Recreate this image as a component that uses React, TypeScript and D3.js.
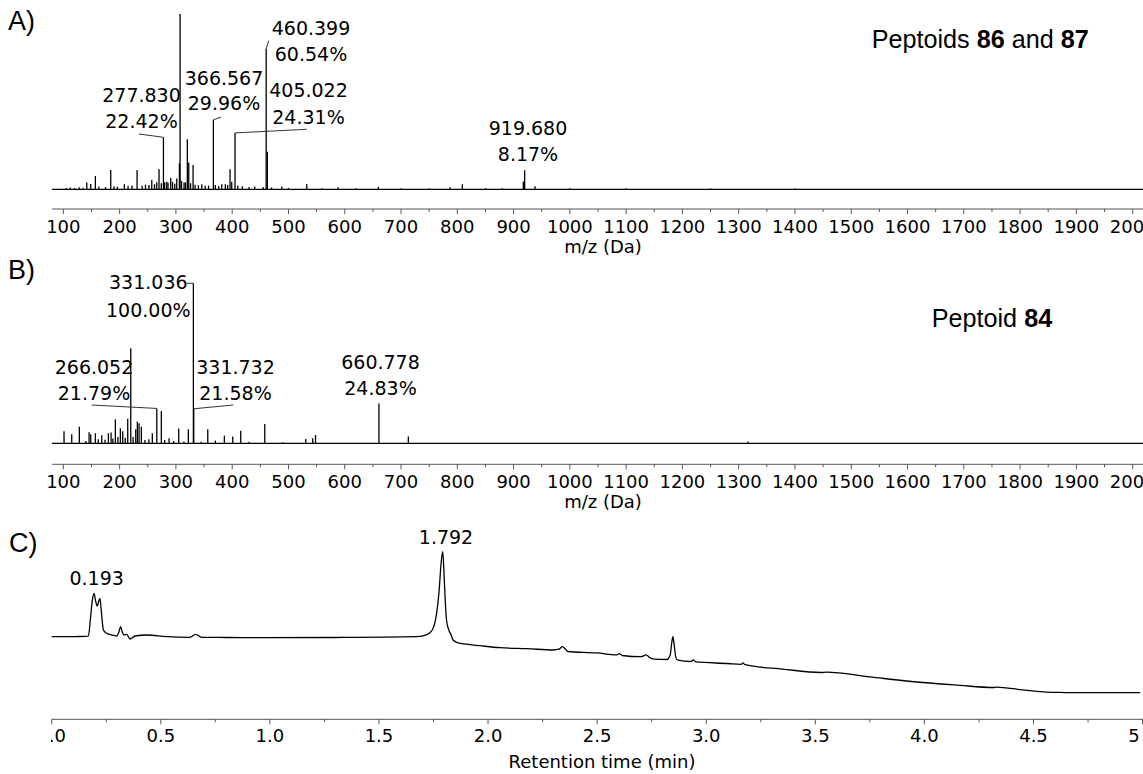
import React from 'react';
import * as d3 from 'd3';

// ---------------- DATA ----------------
const mzMajorTicks = [100, 200, 300, 400, 500, 600, 700, 800, 900, 1000, 1100, 1200, 1300, 1400, 1500, 1600, 1700, 1800, 1900, 2000];
const mzMinorTicks = [50, 150, 250, 350, 450, 550, 650, 750, 850, 950, 1050, 1150, 1250, 1350, 1450, 1550, 1650, 1750, 1850, 1950];
const timeMajorTicks = [0, 0.5, 1.0, 1.5, 2.0, 2.5, 3.0, 3.5, 4.0, 4.5, 5.0];
const timeMinorTicks = [0.25, 0.75, 1.25, 1.75, 2.25, 2.75, 3.25, 3.75, 4.25, 4.75];

// Spectrum A (Peptoids 86 and 87): m/z and relative intensity (%)
const specA_mz = [
  105, 112, 120, 128, 135, 141.6, 148.7, 156.9, 163, 175, 184.2, 190, 196, 208.4, 215, 222, 231.0, 240, 246, 252,
  257.1, 262, 266, 270.0, 274, 277.83, 280, 283.7, 286, 290.8, 294, 298, 301.5, 306.2, 307.4, 310, 314.5, 317,
  320.3, 322.8, 326, 330.5, 334, 340, 346, 352, 358, 366.567, 370, 376, 381.4, 387.8, 392, 396.2, 399.2, 405.022,
  410, 418, 430, 440, 455, 460.399, 462.5, 470, 488.1, 500, 532.5, 560, 588.1, 620, 659.7, 700, 750, 787.1, 809.0,
  850, 880, 917.3, 919.68, 938.1, 1000, 1100, 1250, 1400
];
const specA_int = [
  0.6, 0.8, 0.6, 0.9, 0.7, 2.9, 2.3, 5.7, 1.2, 1.0, 8.3, 1.3, 1.1, 2.2, 1.4, 1.6, 8.3, 1.5, 2.0, 1.8,
  4.0, 2.2, 3.0, 8.6, 2.6, 22.42, 3.0, 3.3, 2.8, 5.0, 3.2, 2.4, 4.7, 11.2, 100, 3.6, 2.9, 3.0,
  21.6, 11.6, 2.6, 10.5, 2.0, 1.8, 2.2, 1.5, 1.6, 29.96, 1.8, 1.4, 2.2, 2.2, 1.9, 8.6, 3.3, 24.31,
  1.6, 1.3, 1.0, 1.2, 1.0, 60.54, 16.2, 0.8, 1.2, 0.6, 2.3, 0.5, 0.9, 0.5, 1.1, 0.5, 0.5, 0.9, 2.2,
  0.5, 0.5, 3.4, 8.17, 1.3, 0.4, 0.4, 0.4, 0.4
];
const annotA_mz = [277.83, 366.567, 405.022, 460.399, 919.68];
const annotA_int = [22.42, 29.96, 24.31, 60.54, 8.17];
const annotA_text = [['277.830', '22.42%'], ['366.567', '29.96%'], ['405.022', '24.31%'], ['460.399', '60.54%'], ['919.680', '8.17%']];

// Spectrum B (Peptoid 84)
const specB_mz = [
  101.2, 114.9, 128.4, 140, 145.7, 148.7, 156.9, 162, 168.2, 174, 180.0, 184.8, 188, 192.4, 197, 201.3, 205.5, 210,
  214.4, 219.8, 224, 228.6, 231.5, 234.5, 238.6, 245, 252, 258.1, 266.052, 274.1, 280, 287.8, 296, 305.0, 314,
  322.1, 331.036, 331.732, 345, 356.6, 370.1, 386.1, 401.0, 415.2, 430, 457.9, 490, 530.7, 543.1, 548.1,
  660.778, 713.0, 1316.6
];
const specB_int = [
  7.5, 5.6, 10.4, 1.5, 6.9, 5.6, 6.3, 2.5, 5.0, 2.2, 6.3, 6.7, 3.0, 15.0, 4.0, 9.4, 7.5, 3.5,
  15.4, 59.4, 4.0, 8.8, 13.6, 12.5, 10.4, 2.0, 2.5, 6.3, 21.79, 20.2, 2.0, 3.1, 1.5, 9.2, 1.2,
  8.8, 100, 21.58, 1.0, 8.8, 1.7, 4.8, 4.2, 7.9, 1.0, 12.1, 0.6, 2.7, 3.1, 5.2,
  24.83, 4.2, 1.2
];
const annotB_mz = [331.036, 266.052, 331.732, 660.778];
const annotB_int = [100, 21.79, 21.58, 24.83];
const annotB_text = [['331.036', '100.00%'], ['266.052', '21.79%'], ['331.732', '21.58%'], ['660.778', '24.83%']];

// Chromatogram C: retention time (min) and detector signal (a.u.)
const chromT = [
  0, 0.1, 0.168, 0.178, 0.186, 0.194, 0.201, 0.209, 0.215, 0.221, 0.228, 0.237, 0.252, 0.28, 0.298, 0.308, 0.316,
  0.323, 0.331, 0.344, 0.359, 0.382, 0.435, 0.527, 0.634, 0.66, 0.687, 0.8, 0.985, 1.3, 1.673, 1.72, 1.745, 1.764,
  1.775, 1.785, 1.792, 1.797, 1.803, 1.81, 1.818, 1.83, 1.84, 1.86, 1.9, 1.963, 2.055, 2.18, 2.3, 2.325, 2.341,
  2.355, 2.366, 2.5, 2.59, 2.602, 2.615, 2.7, 2.725, 2.74, 2.762, 2.819, 2.835, 2.842, 2.847, 2.853, 2.86, 2.866,
  2.93, 2.941, 2.952, 3.1, 3.16, 3.168, 3.178, 3.35, 3.526, 3.55, 3.75, 3.941, 4.15, 4.318, 4.33, 4.45, 4.545,
  4.62, 4.696, 4.85, 4.989
];
const chromV = [
  56, 56, 56.5, 75, 92, 99.4, 92, 86.7, 91, 94.4, 80, 62.7, 59.4, 57.5, 56.7, 60.7, 66,
  61, 57.7, 58.4, 53.7, 56.7, 57.7, 56, 55.4, 58.4, 55.4, 55.2, 55, 55.2, 56, 58, 63, 79,
  100, 130, 141, 125, 95, 72, 64, 58, 52.7, 50, 48.5, 47, 45, 44, 42.7, 43.5, 46,
  43.5, 41.2, 39.8, 37.8, 39, 37.2, 36, 37.8, 35.2, 33.6, 33.2, 38, 50, 56, 48, 36, 32.9,
  31.2, 32.8, 30.8, 29.2, 28.4, 29.8, 28.0, 23.6, 20.2, 20.6, 15.8, 11.2, 7.6, 5.2, 5.6, 2.8, 0.9,
  0.3, 0, 0, 0
];
const chromLabelT = [0.193, 1.792];
const chromLabelText = ['0.193', '1.792'];

// ---------------- LAYOUT ----------------
const W = 1143, H = 774;
const FONT = '"DejaVu Sans", Verdana, sans-serif';
const SANS = '"Liberation Sans", Arial, sans-serif';
const ANN = 19;
const TICK = 18;

const xMz = d3.scaleLinear().domain([80, 2020]).range([52.1, 1143.9]);
const yA = d3.scaleLinear().domain([0, 100]).range([189.3, 189.3 - 232]);
const yB = d3.scaleLinear().domain([0, 100]).range([443.3, 283.3]);
const xT = d3.scaleLinear().domain([0, 5]).range([51.7, 1142.6]);
const yC = d3.scaleLinear().domain([0, 150]).range([692.7, 542.7]);

const axisA = 209;
const axisB = 464.3;
const axisC = 719.3;

// label layout (absolute pixel positions of label centres/baselines and leader ends)
const layoutA = [
  { cx: 141.5, b1: 102, b2: 128, lead: [139, 134] },
  { cx: 224, b1: 85, b2: 110, lead: [221, 117] },
  { cx: 308.5, b1: 97, b2: 124, lead: [306.7, 129.3] },
  { cx: 311, b1: 35, b2: 61, lead: [268.7, 40.7] },
  { cx: 528, b1: 135, b2: 161, lead: null },
];
const layoutB = [
  { cx: 148.3, b1: 289, b2: 316.7, lead: [186.7, 283.3] },
  { cx: 94, b1: 374, b2: 400, lead: [91.7, 405] },
  { cx: 235.5, b1: 374, b2: 400, lead: [233.3, 405] },
  { cx: 380.5, b1: 369, b2: 395, lead: null },
];
const layoutC = [
  { cx: 96.7, b: 585 },
  { cx: 446, b: 544 },
];

function MzAxis({ y }: { y: number }) {
  return (
    <g>
      <line x1={xMz.range()[0]} x2={W} y1={y} y2={y} stroke="#555" strokeWidth={1} />
      {mzMajorTicks.map((t) => (
        <line key={'M' + t} x1={xMz(t)} x2={xMz(t)} y1={y} y2={y + 5} stroke="#555" strokeWidth={1} />
      ))}
      {mzMinorTicks.filter((t) => xMz(t) > xMz.range()[0]).map((t) => (
        <line key={'m' + t} x1={xMz(t)} x2={xMz(t)} y1={y} y2={y + 3} stroke="#555" strokeWidth={1} />
      ))}
      {mzMajorTicks.map((t) => (
        <text key={'L' + t} x={xMz(t)} y={y + 24} textAnchor="middle" fontFamily={FONT} fontSize={TICK} fill="#000">
          {t}
        </text>
      ))}
      <text x={603} y={y + 44} textAnchor="middle" fontFamily={FONT} fontSize={TICK} fill="#000">
        m/z (Da)
      </text>
    </g>
  );
}

function Spectrum({ mz, inten, yS, clipId }: { mz: number[]; inten: number[]; yS: any; clipId?: string }) {
  const base = yS(0);
  return (
    <g clipPath={clipId ? `url(#${clipId})` : undefined}>
      <line x1={xMz.range()[0]} x2={W} y1={base} y2={base} stroke="#000" strokeWidth={1.2} />
      {mz.map((m, i) => (
        <line key={i} x1={xMz(m)} x2={xMz(m)} y1={base} y2={yS(inten[i])} stroke="#000" strokeWidth={1.3} />
      ))}
    </g>
  );
}

function Annotations({ mz, inten, texts, layout, yS }: any) {
  return (
    <g>
      {mz.map((m: number, i: number) => {
        const L = layout[i];
        const px = xMz(m);
        const py = yS(inten[i]);
        return (
          <g key={i}>
            {L.lead && (
              <line x1={L.lead[0]} y1={L.lead[1]} x2={px} y2={py} stroke="#333" strokeWidth={1} />
            )}
            <text x={L.cx} y={L.b1} textAnchor="middle" fontFamily={FONT} fontSize={ANN} fill="#000">
              {texts[i][0]}
            </text>
            <text x={L.cx} y={L.b2} textAnchor="middle" fontFamily={FONT} fontSize={ANN} fill="#000">
              {texts[i][1]}
            </text>
          </g>
        );
      })}
    </g>
  );
}

export default function App() {
  const chromLine = d3
    .line<number>()
    .x((_, i) => xT(chromT[i]))
    .y((v) => yC(v))
    .curve(d3.curveMonotoneX)(chromV) as string;

  return (
    <svg
      width={W}
      height={H}
      viewBox={`0 0 ${W} ${H}`}
      style={{ position: 'absolute', left: 0, top: 0, background: '#fff' }}
    >
      <defs>
        <clipPath id="clipA">
          <rect x={0} y={14} width={W} height={200} />
        </clipPath>
        <clipPath id="clipCAxis">
          <rect x={51} y={690} width={1090} height={84} />
        </clipPath>
      </defs>
      <rect x={0} y={0} width={W} height={H} fill="#fff" />

      {/* Panel A */}
      <text x={8} y={30} fontFamily={SANS} fontSize={27} fill="#000">A)</text>
      <text x={871.7} y={48.3} fontFamily={SANS} fontSize={25.2} fill="#000">
        Peptoids <tspan fontWeight="bold">86</tspan> and <tspan fontWeight="bold">87</tspan>
      </text>
      <Spectrum mz={specA_mz} inten={specA_int} yS={yA} clipId="clipA" />
      <Annotations mz={annotA_mz} inten={annotA_int} texts={annotA_text} layout={layoutA} yS={yA} />
      <MzAxis y={axisA} />

      {/* Panel B */}
      <text x={8} y={279} fontFamily={SANS} fontSize={27} fill="#000">B)</text>
      <text x={931.7} y={327} fontFamily={SANS} fontSize={25.2} fill="#000">
        Peptoid <tspan fontWeight="bold">84</tspan>
      </text>
      <Spectrum mz={specB_mz} inten={specB_int} yS={yB} />
      <Annotations mz={annotB_mz} inten={annotB_int} texts={annotB_text} layout={layoutB} yS={yB} />
      <MzAxis y={axisB} />

      {/* Panel C */}
      <text x={9} y={551.7} fontFamily={SANS} fontSize={27} fill="#000">C)</text>
      <path d={chromLine} fill="none" stroke="#000" strokeWidth={1.3} />
      {chromLabelT.map((t, i) => (
        <text key={i} x={layoutC[i].cx} y={layoutC[i].b} textAnchor="middle" fontFamily={FONT} fontSize={ANN} fill="#000">
          {chromLabelText[i]}
        </text>
      ))}
      <g>
        <line x1={xT(0)} x2={W} y1={axisC} y2={axisC} stroke="#555" strokeWidth={1} />
        {timeMajorTicks.map((t) => (
          <line key={'M' + t} x1={xT(t)} x2={xT(t)} y1={axisC} y2={axisC + 5} stroke="#555" strokeWidth={1} />
        ))}
        {timeMinorTicks.map((t) => (
          <line key={'m' + t} x1={xT(t)} x2={xT(t)} y1={axisC} y2={axisC + 3} stroke="#555" strokeWidth={1} />
        ))}
        <g clipPath="url(#clipCAxis)">
          {timeMajorTicks.map((t) => (
            <text key={'L' + t} x={xT(t)} y={axisC + 23} textAnchor="middle" fontFamily={FONT} fontSize={TICK} fill="#000">
              {d3.format('.1f')(t)}
            </text>
          ))}
        </g>
        <text x={602} y={768} textAnchor="middle" fontFamily={FONT} fontSize={TICK} fill="#000">
          Retention time (min)
        </text>
      </g>
    </svg>
  );
}
